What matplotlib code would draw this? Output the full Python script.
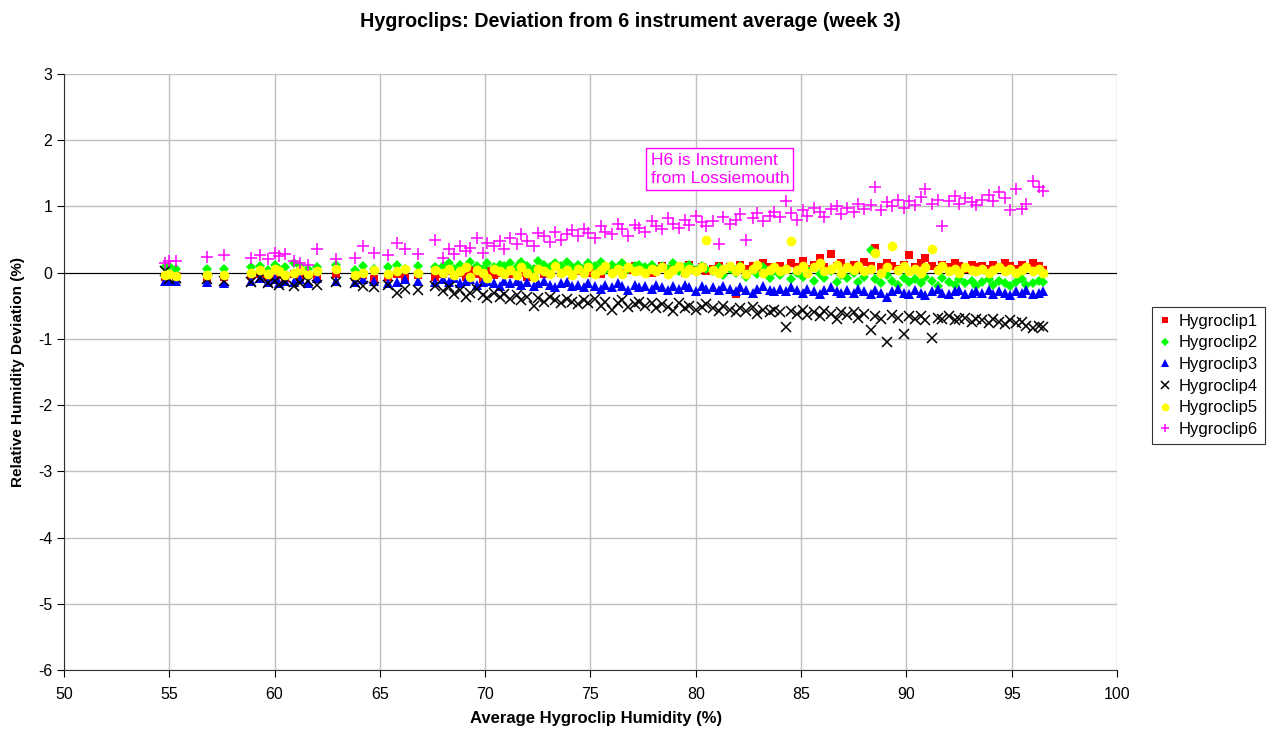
import matplotlib
matplotlib.use("Agg")
import matplotlib.pyplot as plt

plt.rcParams["font.family"] = ["Liberation Sans", "DejaVu Sans"]
plt.rcParams["axes.unicode_minus"] = False

# average humidity of the six hygroclips (x)
avg_rh = [
    54.8, 55.0, 55.3, 56.8, 57.6, 58.9, 59.3, 59.7, 60.0, 60.2, 60.5, 60.9,
    61.2, 61.6, 62.0, 62.9, 63.8, 64.2, 64.7, 65.4, 65.8, 66.2, 66.8, 67.6,
    68.0, 68.3, 68.5, 68.8, 69.1, 69.3, 69.6, 69.9, 70.1, 70.4, 70.7, 70.9,
    71.2, 71.5, 71.7, 72.0, 72.3, 72.5, 72.8, 73.1, 73.3, 73.6, 73.9, 74.1,
    74.4, 74.7, 74.9, 75.2, 75.5, 75.7, 76.0, 76.3, 76.5, 76.8, 77.1, 77.3,
    77.6, 77.9, 78.1, 78.4, 78.7, 78.9, 79.2, 79.5, 79.7, 80.0, 80.3, 80.5,
    80.8, 81.1, 81.3, 81.6, 81.9, 82.1, 82.4, 82.7, 82.9, 83.2, 83.5, 83.7,
    84.0, 84.3, 84.5, 84.8, 85.1, 85.3, 85.6, 85.9, 86.1, 86.4, 86.7, 86.9,
    87.2, 87.5, 87.7, 88.0, 88.3, 88.5, 88.8, 89.1, 89.3, 89.6, 89.9, 90.1,
    90.4, 90.7, 90.9, 91.2, 91.5, 91.7, 92.0, 92.3, 92.5, 92.8, 93.1, 93.3,
    93.6, 93.9, 94.1, 94.4, 94.7, 94.9, 95.2, 95.5, 95.7, 96.0, 96.3, 96.5,
]

dev1 = [
    -0.06, -0.04, -0.05, -0.08, -0.06, -0.04, -0.02, -0.06, -0.10, -0.04, -0.08, -0.02,
    -0.06, -0.04, -0.08, -0.02, -0.06, -0.04, -0.10, -0.06, -0.02, -0.08, -0.04, -0.06,
    -0.02, 0.02, -0.04, 0.00, -0.06, 0.04, -0.02, -0.10, 0.02, -0.04, 0.00, 0.06,
    -0.02, 0.04, 0.00, -0.06, 0.02, 0.06, -0.02, 0.04, 0.08, 0.00, 0.04, -0.04,
    0.02, 0.06, 0.00, 0.04, -0.02, 0.08, 0.02, 0.06, 0.00, 0.04, 0.10, 0.02,
    0.04, 0.00, 0.06, 0.10, 0.02, 0.06, 0.08, 0.00, 0.12, 0.04, 0.08, 0.02,
    0.06, 0.10, 0.04, 0.08, -0.32, 0.12, 0.06, 0.10, 0.04, 0.14, 0.08, 0.06,
    0.10, 0.06, 0.14, 0.08, 0.18, 0.06, 0.12, 0.22, 0.08, 0.28, 0.10, 0.14,
    0.08, 0.12, 0.06, 0.16, 0.10, 0.38, 0.08, 0.14, 0.10, 0.06, 0.12, 0.26,
    0.08, 0.14, 0.22, 0.10, 0.06, 0.12, 0.08, 0.14, 0.10, 0.06, 0.12, 0.08,
    0.10, 0.06, 0.12, 0.08, 0.14, 0.10, 0.06, 0.12, 0.08, 0.14, 0.10, 0.04,
]

dev2 = [
    0.08, 0.10, 0.06, 0.05, 0.06, 0.08, 0.10, 0.04, 0.12, 0.06, 0.08, 0.14,
    0.10, 0.06, 0.08, 0.12, 0.04, 0.10, 0.06, 0.08, 0.12, 0.06, 0.10, 0.08,
    0.10, 0.14, 0.06, 0.12, 0.08, 0.16, 0.10, 0.06, 0.14, 0.08, 0.12, 0.10,
    0.14, 0.08, 0.16, 0.10, 0.06, 0.18, 0.12, 0.08, 0.14, 0.10, 0.16, 0.08,
    0.12, 0.06, 0.14, 0.10, 0.16, 0.04, 0.12, 0.08, 0.14, 0.06, 0.10, 0.12,
    0.08, 0.12, 0.04, 0.10, 0.06, 0.14, 0.02, 0.08, 0.12, 0.04, 0.10, 0.06,
    0.02, 0.08, -0.04, 0.06, 0.00, 0.10, -0.06, 0.04, -0.02, 0.08, -0.08, 0.02,
    -0.04, 0.06, -0.10, 0.00, -0.06, 0.04, -0.12, -0.02, -0.08, 0.02, -0.14, -0.04,
    -0.08, 0.00, -0.14, -0.06, 0.34, -0.10, -0.16, -0.04, -0.12, -0.18, -0.08, -0.14,
    -0.10, -0.16, -0.06, -0.12, -0.20, -0.08, -0.14, -0.18, -0.10, -0.16, -0.12, -0.20,
    -0.14, -0.10, -0.18, -0.12, -0.16, -0.20, -0.14, -0.10, -0.18, -0.16, -0.12, -0.14,
]

dev3 = [
    -0.12, -0.13, -0.12, -0.14, -0.16, -0.12, -0.08, -0.14, -0.10, -0.16, -0.12, -0.14,
    -0.10, -0.16, -0.08, -0.12, -0.14, -0.10, -0.12, -0.16, -0.14, -0.10, -0.12, -0.14,
    -0.10, -0.14, -0.08, -0.16, -0.12, -0.10, -0.18, -0.14, -0.12, -0.16, -0.20, -0.12,
    -0.16, -0.12, -0.18, -0.14, -0.20, -0.16, -0.12, -0.18, -0.22, -0.16, -0.14, -0.20,
    -0.18, -0.22, -0.16, -0.20, -0.24, -0.18, -0.22, -0.16, -0.20, -0.26, -0.18, -0.22,
    -0.20, -0.24, -0.18, -0.22, -0.26, -0.20, -0.24, -0.18, -0.22, -0.28, -0.20, -0.24,
    -0.22, -0.26, -0.20, -0.24, -0.28, -0.22, -0.26, -0.30, -0.24, -0.20, -0.26, -0.28,
    -0.24, -0.28, -0.22, -0.26, -0.30, -0.24, -0.28, -0.32, -0.26, -0.22, -0.28, -0.30,
    -0.26, -0.30, -0.24, -0.28, -0.32, -0.26, -0.30, -0.36, -0.28, -0.24, -0.30, -0.32,
    -0.26, -0.30, -0.34, -0.28, -0.24, -0.30, -0.32, -0.28, -0.26, -0.32, -0.30, -0.28,
    -0.30, -0.26, -0.32, -0.28, -0.30, -0.34, -0.28, -0.30, -0.26, -0.32, -0.30, -0.28,
]

dev4 = [
    0.02, -0.10, -0.08, -0.10, -0.12, -0.14, -0.08, -0.15, -0.12, -0.18, -0.14, -0.20,
    -0.16, -0.12, -0.18, -0.14, -0.16, -0.20, -0.22, -0.18, -0.30, -0.24, -0.26, -0.20,
    -0.28, -0.22, -0.32, -0.26, -0.36, -0.30, -0.24, -0.34, -0.38, -0.30, -0.36, -0.32,
    -0.40, -0.34, -0.42, -0.36, -0.50, -0.38, -0.44, -0.36, -0.42, -0.46, -0.40, -0.44,
    -0.48, -0.42, -0.46, -0.40, -0.50, -0.44, -0.56, -0.46, -0.42, -0.52, -0.48, -0.44,
    -0.50, -0.46, -0.54, -0.48, -0.52, -0.58, -0.46, -0.54, -0.50, -0.56, -0.52, -0.48,
    -0.54, -0.58, -0.50, -0.56, -0.60, -0.54, -0.58, -0.52, -0.62, -0.56, -0.60, -0.56,
    -0.60, -0.82, -0.58, -0.62, -0.56, -0.64, -0.60, -0.66, -0.58, -0.62, -0.70, -0.60,
    -0.64, -0.60, -0.68, -0.62, -0.86, -0.66, -0.70, -1.04, -0.64, -0.68, -0.92, -0.66,
    -0.70, -0.66, -0.72, -0.98, -0.68, -0.70, -0.66, -0.72, -0.70, -0.68, -0.74, -0.70,
    -0.72, -0.76, -0.70, -0.74, -0.78, -0.72, -0.76, -0.74, -0.80, -0.84, -0.80, -0.82,
]

dev5 = [
    -0.04, -0.02, -0.05, -0.03, -0.04, 0.00, 0.04, -0.02, 0.06, 0.02, -0.04, 0.00,
    0.04, -0.02, 0.02, 0.06, -0.04, 0.00, 0.04, -0.02, 0.02, 0.06, 0.00, 0.04,
    0.00, 0.06, -0.04, 0.02, 0.08, -0.06, 0.04, 0.00, -0.08, 0.06, 0.02, -0.02,
    0.04, -0.04, 0.08, 0.00, -0.06, 0.06, 0.02, -0.02, 0.10, 0.00, 0.04, -0.04,
    0.06, 0.00, 0.08, -0.02, 0.04, 0.10, 0.00, 0.06, -0.02, 0.08, 0.02, 0.04,
    0.00, 0.06, 0.02, 0.08, -0.02, 0.04, 0.10, 0.00, 0.06, 0.02, 0.08, 0.50,
    0.04, 0.00, 0.06, 0.10, 0.02, 0.08, -0.02, 0.06, 0.12, 0.00, 0.04, 0.08,
    0.02, 0.06, 0.48, 0.04, 0.10, 0.00, 0.08, 0.14, 0.02, 0.06, 0.12, 0.00,
    0.08, 0.04, 0.10, 0.02, 0.06, 0.30, 0.00, 0.08, 0.40, 0.04, 0.10, 0.02,
    0.06, 0.00, 0.08, 0.36, 0.04, 0.10, 0.02, 0.06, 0.00, 0.08, 0.04, 0.02,
    0.06, 0.00, 0.04, 0.08, 0.02, 0.06, 0.00, 0.04, 0.08, 0.02, 0.06, 0.00,
]

dev6 = [
    0.15, 0.17, 0.18, 0.23, 0.26, 0.22, 0.27, 0.20, 0.30, 0.25, 0.28, 0.18,
    0.15, 0.12, 0.36, 0.21, 0.22, 0.40, 0.30, 0.26, 0.45, 0.36, 0.28, 0.50,
    0.22, 0.35, 0.28, 0.40, 0.32, 0.38, 0.52, 0.30, 0.45, 0.40, 0.48, 0.36,
    0.52, 0.44, 0.58, 0.48, 0.40, 0.60, 0.55, 0.46, 0.62, 0.50, 0.58, 0.64,
    0.55, 0.66, 0.60, 0.52, 0.70, 0.62, 0.58, 0.74, 0.66, 0.56, 0.72, 0.68,
    0.62, 0.78, 0.70, 0.66, 0.82, 0.74, 0.68, 0.80, 0.72, 0.86, 0.76, 0.70,
    0.78, 0.44, 0.84, 0.74, 0.80, 0.88, 0.50, 0.82, 0.90, 0.78, 0.86, 0.92,
    0.84, 1.08, 0.90, 0.80, 0.94, 0.86, 0.98, 0.92, 0.84, 0.96, 1.00, 0.88,
    0.98, 0.92, 1.04, 0.96, 1.02, 1.30, 0.94, 1.06, 1.00, 1.10, 0.98, 1.08,
    1.02, 1.14, 1.26, 1.04, 1.10, 0.70, 1.08, 1.16, 1.04, 1.12, 1.06, 1.02,
    1.10, 1.18, 1.08, 1.22, 1.12, 0.94, 1.26, 0.96, 1.04, 1.38, 1.30, 1.24,
]

labels = ["Hygroclip1", "Hygroclip2", "Hygroclip3", "Hygroclip4", "Hygroclip5", "Hygroclip6"]


def main():
    fig = plt.figure(figsize=(12.74, 7.29), dpi=100)
    ax = fig.add_axes([0.0502, 0.0809, 0.8266, 0.8176])

    series = [dev1, dev2, dev3, dev4, dev5, dev6]
    styles = [
        dict(marker="s", color="#ff0000", markersize=5.5, mew=0),
        dict(marker="D", color="#00ff00", markersize=5, mew=0),
        dict(marker="^", color="#0000ff", markersize=6.5, mew=0),
        dict(marker="x", color="#000000", markersize=6.5, mew=1.1),
        dict(marker="o", color="#ffff00", markersize=7, mew=0),
        dict(marker="+", color="#ff00ff", markersize=8, mew=1.1),
    ]
    for ys, st, lab in zip(series, styles, labels):
        ax.plot(avg_rh, ys, linestyle="none", label=lab, **st)

    ax.set_xlim(50, 100)
    ax.set_ylim(-6, 3)
    ax.set_xticks(range(50, 101, 5))
    ax.set_yticks(range(-6, 4))
    ax.grid(True, color="#c0c0c0", linewidth=1)
    ax.set_axisbelow(True)
    ax.axhline(0, color="#000000", linewidth=0.8, zorder=1.5)

    ax.spines["top"].set_visible(False)
    ax.spines["right"].set_visible(False)
    ax.spines["left"].set_color("#333333")
    ax.spines["bottom"].set_color("#333333")
    ax.tick_params(direction="out", length=5, labelsize=11.5, colors="#000000")
    ax.tick_params(axis="x", pad=7)

    ax.set_xlabel("Average Hygroclip Humidity (%)", fontsize=12, fontweight="bold")
    ax.set_ylabel("Relative Humidity Deviation (%)", fontsize=11, fontweight="bold")
    ax.xaxis.set_label_coords(0.505, -0.068)
    ax.yaxis.set_label_coords(-0.037, 0.5)
    fig.text(0.495, 0.970, "Hygroclips: Deviation from 6 instrument average (week 3)",
             ha="center", va="center", fontsize=14.2, fontweight="bold")

    ax.text(77.85, 1.81, "H6 is Instrument\nfrom Lossiemouth", color="#ff00ff",
            fontsize=12.5, va="top", ha="left", linespacing=1.25,
            bbox=dict(boxstyle="square,pad=0.25", facecolor="white", edgecolor="#ff00ff"))

    leg = fig.legend(loc="upper left", bbox_to_anchor=(1152 / 1274, 1 - 307 / 729),
                     borderaxespad=0, frameon=True, fancybox=False, fontsize=12,
                     handlelength=0.8, handletextpad=0.4, borderpad=0.4,
                     labelspacing=0.4, markerscale=0.8)
    leg.get_frame().set_edgecolor("#000000")
    leg.get_frame().set_linewidth(0.8)

    fig.savefig("out.png", dpi=100)


if __name__ == "__main__":
    main()
